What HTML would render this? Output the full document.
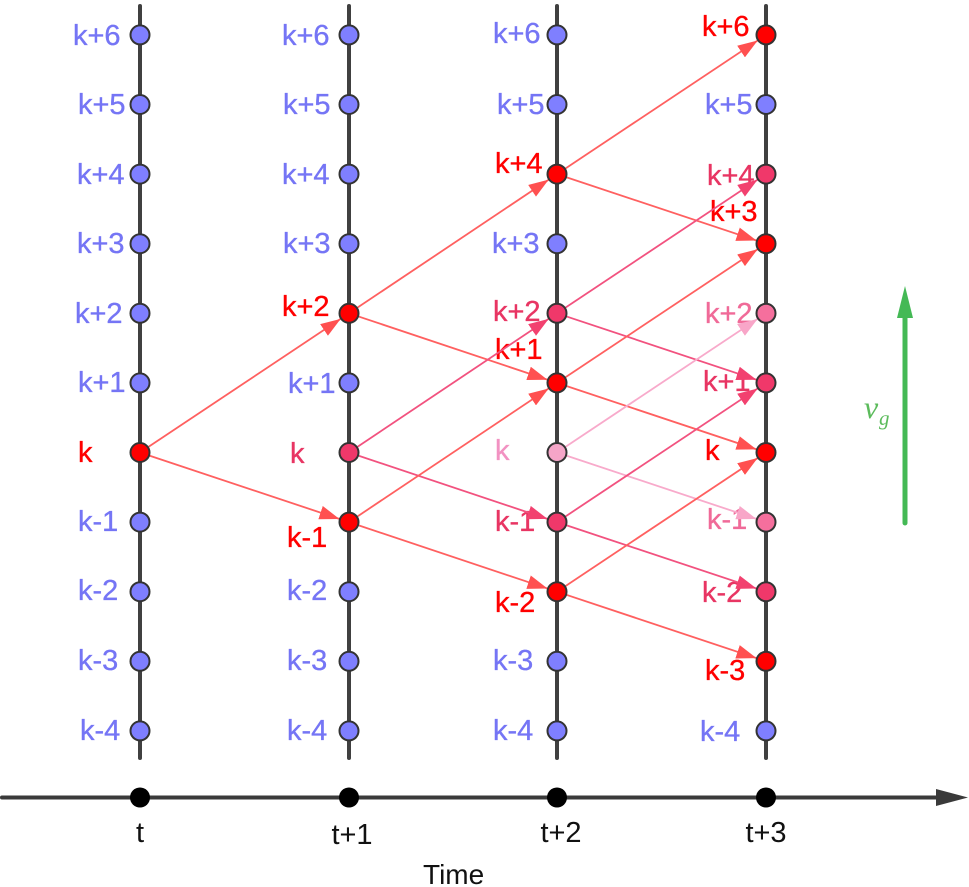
<!DOCTYPE html>
<html><head><meta charset="utf-8"><style>
html,body{margin:0;padding:0;background:#fff;}
svg{display:block;}
text{font-family:"Liberation Sans",Arial,sans-serif;font-size:29px;}
.lb text{stroke-width:0.35px;}
</style></head><body>
<svg width="969" height="887" viewBox="0 0 969 887" xmlns="http://www.w3.org/2000/svg">
<defs>
<marker id="mr" viewBox="0 0 20 14" refX="30" refY="7" markerWidth="20" markerHeight="14" markerUnits="userSpaceOnUse" orient="auto"><path d="M0,0 L20,7 L0,14 z" fill="#ff5050"/></marker>
<marker id="mc" viewBox="0 0 20 14" refX="30" refY="7" markerWidth="20" markerHeight="14" markerUnits="userSpaceOnUse" orient="auto"><path d="M0,0 L20,7 L0,14 z" fill="#f2416f"/></marker>
<marker id="ml" viewBox="0 0 20 14" refX="30" refY="7" markerWidth="20" markerHeight="14" markerUnits="userSpaceOnUse" orient="auto"><path d="M0,0 L20,7 L0,14 z" fill="#f8a6c8"/></marker>
</defs>

<g stroke="#404040" stroke-width="4" stroke-linecap="round">
<line x1="140" y1="6" x2="140" y2="758"/>
<line x1="349" y1="6" x2="349" y2="758"/>
<line x1="557" y1="6" x2="557" y2="758"/>
<line x1="766" y1="6" x2="766" y2="758"/>
</g>

<g class="lb">
<text x="73" y="45" fill="#7575f5" stroke="#7575f5">k+6</text>
<text x="78" y="114" fill="#7575f5" stroke="#7575f5">k+5</text>
<text x="77" y="184" fill="#7575f5" stroke="#7575f5">k+4</text>
<text x="77" y="253" fill="#7575f5" stroke="#7575f5">k+3</text>
<text x="75" y="323" fill="#7575f5" stroke="#7575f5">k+2</text>
<text x="78" y="392" fill="#7575f5" stroke="#7575f5">k+1</text>
<text x="78" y="462" fill="#ff0000" stroke="#ff0000">k</text>
<text x="78" y="531" fill="#7575f5" stroke="#7575f5">k-1</text>
<text x="78" y="600" fill="#7575f5" stroke="#7575f5">k-2</text>
<text x="78" y="670" fill="#7575f5" stroke="#7575f5">k-3</text>
<text x="80" y="740" fill="#7575f5" stroke="#7575f5">k-4</text>

<text x="282" y="45" fill="#7575f5" stroke="#7575f5">k+6</text>
<text x="283" y="114" fill="#7575f5" stroke="#7575f5">k+5</text>
<text x="282" y="184" fill="#7575f5" stroke="#7575f5">k+4</text>
<text x="283" y="253" fill="#7575f5" stroke="#7575f5">k+3</text>
<text x="282" y="316" fill="#ff0000" stroke="#ff0000">k+2</text>
<text x="288" y="393" fill="#7575f5" stroke="#7575f5">k+1</text>
<text x="290" y="463" fill="#e83563" stroke="#e83563">k</text>
<text x="287" y="547" fill="#ff0000" stroke="#ff0000">k-1</text>
<text x="287" y="600" fill="#7575f5" stroke="#7575f5">k-2</text>
<text x="287" y="670" fill="#7575f5" stroke="#7575f5">k-3</text>
<text x="287" y="740" fill="#7575f5" stroke="#7575f5">k-4</text>

<text x="493" y="43" fill="#7575f5" stroke="#7575f5">k+6</text>
<text x="497" y="114" fill="#7575f5" stroke="#7575f5">k+5</text>
<text x="495" y="173" fill="#ff0000" stroke="#ff0000">k+4</text>
<text x="492" y="253" fill="#7575f5" stroke="#7575f5">k+3</text>
<text x="493" y="321" fill="#e83563" stroke="#e83563">k+2</text>
<text x="495" y="359" fill="#ff0000" stroke="#ff0000">k+1</text>
<text x="495" y="460" fill="#f292c2" stroke="#f292c2">k</text>
<text x="495" y="531" fill="#e83563" stroke="#e83563">k-1</text>
<text x="495" y="612" fill="#ff0000" stroke="#ff0000">k-2</text>
<text x="493" y="670" fill="#7575f5" stroke="#7575f5">k-3</text>
<text x="493" y="740" fill="#7575f5" stroke="#7575f5">k-4</text>

<text x="702" y="36" fill="#ff0000" stroke="#ff0000">k+6</text>
<text x="705" y="114" fill="#7575f5" stroke="#7575f5">k+5</text>
<text x="707" y="185" fill="#e83563" stroke="#e83563">k+4</text>
<text x="710" y="221" fill="#ff0000" stroke="#ff0000">k+3</text>
<text x="705" y="323" fill="#f06a98" stroke="#f06a98">k+2</text>
<text x="703" y="391" fill="#e83563" stroke="#e83563">k+1</text>
<text x="705" y="460" fill="#ff0000" stroke="#ff0000">k</text>
<text x="707" y="529" fill="#f06a98" stroke="#f06a98">k-1</text>
<text x="702" y="602" fill="#e83563" stroke="#e83563">k-2</text>
<text x="705" y="680" fill="#ff0000" stroke="#ff0000">k-3</text>
<text x="700" y="741" fill="#7575f5" stroke="#7575f5">k-4</text>
</g>

<g stroke-width="1.8" fill="none">
<line x1="140" y1="452.5" x2="349" y2="313.3" stroke="#ff6060" marker-end="url(#mr)"/>
<line x1="140" y1="452.5" x2="349" y2="522.1" stroke="#ff6060" marker-end="url(#mr)"/>
<line x1="349" y1="313.3" x2="557" y2="174.1" stroke="#ff6060" marker-end="url(#mr)"/>
<line x1="349" y1="313.3" x2="557" y2="382.9" stroke="#ff6060" marker-end="url(#mr)"/>
<line x1="349" y1="452.5" x2="557" y2="313.3" stroke="#f2527f" marker-end="url(#mc)"/>
<line x1="349" y1="452.5" x2="557" y2="522.1" stroke="#f2527f" marker-end="url(#mc)"/>
<line x1="349" y1="522.1" x2="557" y2="382.9" stroke="#ff6060" marker-end="url(#mr)"/>
<line x1="349" y1="522.1" x2="557" y2="591.7" stroke="#ff6060" marker-end="url(#mr)"/>
<line x1="557" y1="174.1" x2="766" y2="34.9" stroke="#ff6060" marker-end="url(#mr)"/>
<line x1="557" y1="174.1" x2="766" y2="243.7" stroke="#ff6060" marker-end="url(#mr)"/>
<line x1="557" y1="313.3" x2="766" y2="174.1" stroke="#f2527f" marker-end="url(#mc)"/>
<line x1="557" y1="313.3" x2="766" y2="382.9" stroke="#f2527f" marker-end="url(#mc)"/>
<line x1="557" y1="382.9" x2="766" y2="243.7" stroke="#ff6060" marker-end="url(#mr)"/>
<line x1="557" y1="382.9" x2="766" y2="452.5" stroke="#ff6060" marker-end="url(#mr)"/>
<line x1="557" y1="452.5" x2="766" y2="313.3" stroke="#f8aacb" marker-end="url(#ml)"/>
<line x1="557" y1="452.5" x2="766" y2="522.1" stroke="#f8aacb" marker-end="url(#ml)"/>
<line x1="557" y1="522.1" x2="766" y2="382.9" stroke="#f2527f" marker-end="url(#mc)"/>
<line x1="557" y1="522.1" x2="766" y2="591.7" stroke="#f2527f" marker-end="url(#mc)"/>
<line x1="557" y1="591.7" x2="766" y2="452.5" stroke="#ff6060" marker-end="url(#mr)"/>
<line x1="557" y1="591.7" x2="766" y2="661.3" stroke="#ff6060" marker-end="url(#mr)"/>
</g>

<g stroke="#333" stroke-width="2">
<circle cx="140" cy="34.9" r="9.5" fill="#7f7fff"/>
<circle cx="140" cy="104.5" r="9.5" fill="#7f7fff"/>
<circle cx="140" cy="174.1" r="9.5" fill="#7f7fff"/>
<circle cx="140" cy="243.7" r="9.5" fill="#7f7fff"/>
<circle cx="140" cy="313.3" r="9.5" fill="#7f7fff"/>
<circle cx="140" cy="382.9" r="9.5" fill="#7f7fff"/>
<circle cx="140" cy="452.5" r="9.5" fill="#ff0000"/>
<circle cx="140" cy="522.1" r="9.5" fill="#7f7fff"/>
<circle cx="140" cy="591.7" r="9.5" fill="#7f7fff"/>
<circle cx="140" cy="661.3" r="9.5" fill="#7f7fff"/>
<circle cx="140" cy="730.9" r="9.5" fill="#7f7fff"/>

<circle cx="349" cy="34.9" r="9.5" fill="#7f7fff"/>
<circle cx="349" cy="104.5" r="9.5" fill="#7f7fff"/>
<circle cx="349" cy="174.1" r="9.5" fill="#7f7fff"/>
<circle cx="349" cy="243.7" r="9.5" fill="#7f7fff"/>
<circle cx="349" cy="313.3" r="9.5" fill="#ff0000"/>
<circle cx="349" cy="382.9" r="9.5" fill="#7f7fff"/>
<circle cx="349" cy="452.5" r="9.5" fill="#f0386a"/>
<circle cx="349" cy="522.1" r="9.5" fill="#ff0000"/>
<circle cx="349" cy="591.7" r="9.5" fill="#7f7fff"/>
<circle cx="349" cy="661.3" r="9.5" fill="#7f7fff"/>
<circle cx="349" cy="730.9" r="9.5" fill="#7f7fff"/>

<circle cx="557" cy="34.9" r="9.5" fill="#7f7fff"/>
<circle cx="557" cy="104.5" r="9.5" fill="#7f7fff"/>
<circle cx="557" cy="174.1" r="9.5" fill="#ff0000"/>
<circle cx="557" cy="243.7" r="9.5" fill="#7f7fff"/>
<circle cx="557" cy="313.3" r="9.5" fill="#f0386a"/>
<circle cx="557" cy="382.9" r="9.5" fill="#ff0000"/>
<circle cx="557" cy="452.5" r="9.5" fill="#f5a5c8"/>
<circle cx="557" cy="522.1" r="9.5" fill="#f0386a"/>
<circle cx="557" cy="591.7" r="9.5" fill="#ff0000"/>
<circle cx="557" cy="661.3" r="9.5" fill="#7f7fff"/>
<circle cx="557" cy="730.9" r="9.5" fill="#7f7fff"/>

<circle cx="766" cy="34.9" r="9.5" fill="#ff0000"/>
<circle cx="766" cy="104.5" r="9.5" fill="#7f7fff"/>
<circle cx="766" cy="174.1" r="9.5" fill="#f0386a"/>
<circle cx="766" cy="243.7" r="9.5" fill="#ff0000"/>
<circle cx="766" cy="313.3" r="9.5" fill="#f56f9d"/>
<circle cx="766" cy="382.9" r="9.5" fill="#f0386a"/>
<circle cx="766" cy="452.5" r="9.5" fill="#ff0000"/>
<circle cx="766" cy="522.1" r="9.5" fill="#f56f9d"/>
<circle cx="766" cy="591.7" r="9.5" fill="#f0386a"/>
<circle cx="766" cy="661.3" r="9.5" fill="#ff0000"/>
<circle cx="766" cy="730.9" r="9.5" fill="#7f7fff"/>
</g>

<line x1="2" y1="797.5" x2="945" y2="797.5" stroke="#3a3a3a" stroke-width="4" stroke-linecap="round"/>
<polygon points="936,789 968,797.5 936,806" fill="#3a3a3a"/>
<g fill="#000">
<circle cx="140" cy="797.5" r="10"/>
<circle cx="349" cy="797.5" r="10"/>
<circle cx="557" cy="797.5" r="10"/>
<circle cx="766" cy="797.5" r="10"/>
</g>
<g fill="#111" style="font-size:27px" text-anchor="middle">
<text x="140" y="842">t</text>
<text x="352" y="844">t+1</text>
<text x="561" y="842">t+2</text>
<text x="766" y="842">t+3</text>
</g>
<text x="423" y="884" fill="#111" style="font-size:28px">Time</text>

<line x1="905" y1="523" x2="905" y2="312" stroke="#44b955" stroke-width="5" stroke-linecap="round"/>
<polygon points="905,286 897,318 913,318" fill="#44b955"/>
<text x="864" y="418" fill="#5cbb5c" style="font-family:'Liberation Serif',serif;font-style:italic;font-size:32px">v</text>
<text x="879" y="425" fill="#5cbb5c" style="font-family:'Liberation Serif',serif;font-style:italic;font-size:21px">g</text>
</svg>
</body></html>
